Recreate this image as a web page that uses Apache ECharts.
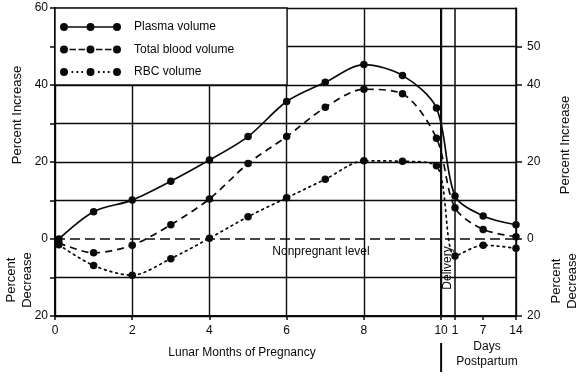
<!DOCTYPE html>
<html><head><meta charset="utf-8">
<script src="https://cdn.jsdelivr.net/npm/echarts@6/dist/echarts.min.js"></script>
<style>html,body{margin:0;padding:0;background:#fff}#c{width:583px;height:376px}</style>
</head><body><div id="c"></div>
<script>
// ---- data ----
const seriesNames = ['Plasma volume', 'Total blood volume', 'RBC volume'];
const months = [0.1, 1, 2, 3, 4, 5, 6, 7, 8, 9, 9.88];
const plasmaMonths = [0, 7.1, 10.1, 15, 20.5, 26.6, 35.7, 40.7, 45.3, 42.5, 34];
const totalMonths  = [-1, -3.6, -1.6, 3.7, 10.4, 19.6, 26.6, 34.2, 38.9, 37.7, 26.2];
const rbcMonths    = [-1.5, -6.9, -9.4, -5.1, 0.2, 5.8, 10.7, 15.5, 20.3, 20.2, 19];
const days = [1, 7, 14];
const plasmaDays = [11.2, 6.0, 3.7];
const totalDays  = [8.1, 2.5, 0.6];
const rbcDays    = [-4.4, -1.6, -2.4];
const monthTicks = [0, 2, 4, 6, 8, 10];
const dayTicks = [1, 7, 14];
const leftYLabels = [60, 40, 20, 0, -20];
const rightYLabels = [50, 40, 20, 0, -20];
const yGridValues = [-20, -10, 0, 10, 20, 30, 40, 50, 60];

// postpartum day scale placed after month 10 (broken axis)
const DAY_GAP = 0.36, MONTH_PER_DAY = 0.1215;
function dayPos(d) { return 10 + DAY_GAP + (d - 1) * MONTH_PER_DAY; }
const xMax = dayPos(14);
function pts(mv, dv) {
  return months.map((m, i) => [m, mv[i]]).concat(days.map((d, i) => [dayPos(d), dv[i]]));
}

const FONT = '"Liberation Sans", Arial, Helvetica, sans-serif';
const C = '#0a0a0a';

// legend icons: three dots joined by solid / dashed / dotted line (61 x 8)
const circ = cx => `M${cx - 4},4a4,4 0 1,0 8,0a4,4 0 1,0 -8,0Z`;
const dots3 = circ(4) + circ(30.5) + circ(57);
const rect = (x, w, y, h) => `M${x},${y}L${x + w},${y}L${x + w},${y + h}L${x},${y + h}Z`;
const segs = [8, 34.5];
const iconSolid = 'path://' + dots3 + segs.map(s => rect(s, 18.5, 3.2, 1.6)).join('');
const iconDash = 'path://' + dots3 + segs.map(s => rect(s + 1.5, 6.5, 3.2, 1.6) + rect(s + 10.5, 6.5, 3.2, 1.6)).join('');
const iconDot = 'path://' + dots3 + segs.map(s => rect(s + 3.5, 1.8, 3.1, 1.8) + rect(s + 8.4, 1.8, 3.1, 1.8) + rect(s + 13.3, 1.8, 3.1, 1.8)).join('');
const icons = [iconSolid, iconDash, iconDot];

const chart = echarts.init(document.getElementById('c'), null, { renderer: 'canvas' });

const lineTypes = ['solid', [7, 5], [1.8, 4]];
const seriesData = [pts(plasmaMonths, plasmaDays), pts(totalMonths, totalDays), pts(rbcMonths, rbcDays)];

const series = seriesNames.map((n, i) => ({
  name: n, type: 'line', xAxisIndex: 0, yAxisIndex: 0,
  data: seriesData[i], smooth: 0.3,
  symbol: 'circle', symbolSize: 7.5, showSymbol: true,
  itemStyle: { color: C }, lineStyle: { color: C, width: 1.7, type: lineTypes[i], cap: i === 2 ? 'round' : 'butt' },
  z: 3, silent: true, animation: false
}));
series[0].markLine = {
  silent: true, symbol: 'none', animation: false,
  data: [
    { yAxis: 0, lineStyle: { type: [10, 5], width: 1.6, color: C },
      label: { show: true, position: 'insideMiddleBottom', distance: 7, formatter: 'Nonpregnant level', padding: [0, 0, 0, 71], fontSize: 12, fontFamily: FONT, color: C } },
    { xAxis: 10, lineStyle: { type: 'solid', width: 2, color: C }, label: { show: false } },
    { xAxis: dayPos(1), lineStyle: { type: 'solid', width: 1.5, color: C }, label: { show: false } }
  ]
};

// horizontal grid: no solid line at 0 (the dashed nonpregnant line replaces it)
const gridColors = yGridValues.map(v => v === 0 ? 'rgba(0,0,0,0)' : C);

chart.setOption({
  animation: false,
  backgroundColor: '#fff',
  grid: { left: 55, right: 67, top: 8, bottom: 60 },
  xAxis: [
    { type: 'value', min: 0, max: xMax, interval: 2, position: 'bottom',
      axisLine: { show: true, onZero: false, lineStyle: { color: C, width: 2 } },
      axisTick: { show: true, length: 4, lineStyle: { color: C, width: 1.5 } },
      axisLabel: { color: C, fontSize: 12, fontFamily: FONT, margin: 9,
        formatter: v => monthTicks.includes(v) ? String(v) : '' },
      splitLine: { show: true, lineStyle: { color: C, width: 1.4 } } },
    { type: 'value', min: 0, max: xMax, position: 'bottom',
      axisLine: { show: false, onZero: false },
      axisTick: { show: true, length: 4, customValues: dayTicks.map(dayPos), lineStyle: { color: C, width: 1.5 } },
      axisLabel: { color: C, fontSize: 12, fontFamily: FONT, margin: 9, customValues: dayTicks.map(dayPos),
        formatter: v => { const d = dayTicks.find(t => Math.abs(dayPos(t) - v) < 1e-6); return d === undefined ? '' : String(d); } },
      splitLine: { show: false } }
  ],
  yAxis: [
    { type: 'value', min: -20, max: 60, interval: 10, position: 'left',
      axisLine: { show: true, onZero: false, lineStyle: { color: C, width: 2 } },
      axisTick: { show: true, length: 5, lineStyle: { color: C, width: 1.5 } },
      axisLabel: { color: C, fontSize: 12, fontFamily: FONT, margin: 7,
        formatter: v => leftYLabels.includes(v) ? String(Math.abs(v)) : '' },
      splitLine: { show: true, lineStyle: { color: gridColors, width: 1.4 } } },
    { type: 'value', min: -20, max: 60, interval: 10, position: 'right',
      axisLine: { show: true, onZero: false, lineStyle: { color: C, width: 1.5 } },
      axisTick: { show: true, length: 6, customValues: rightYLabels, lineStyle: { color: C, width: 1.5 } },
      axisLabel: { color: C, fontSize: 12, fontFamily: FONT, margin: 11, customValues: rightYLabels,
        formatter: v => String(Math.abs(v)) },
      splitLine: { show: false } }
  ],
  legend: {
    orient: 'vertical', left: 55, top: 8, selectedMode: false,
    backgroundColor: '#fff', borderColor: C, borderWidth: 1.4, borderRadius: 0,
    padding: [13, 53, 7, 5], itemWidth: 61, itemHeight: 8, itemGap: 10.5,
    itemStyle: { color: C, borderWidth: 0 },
    textStyle: { fontSize: 12, color: C, fontFamily: FONT, padding: [0, 0, 0, 8] },
    data: seriesNames.map((n, i) => ({ name: n, icon: icons[i] }))
  },
  series: series
});

// decorations: axis titles, delivery label, delivery mark below axis
const xd = chart.convertToPixel({ xAxisIndex: 0 }, 10);
const txt = (x, y, text, rot, size) => ({
  type: 'text', x: x, y: y, rotation: rot ? Math.PI / 2 : 0, silent: true,
  style: { text: text, fill: C, font: (size || 12) + 'px ' + FONT, align: 'center', verticalAlign: 'middle', lineHeight: (size || 12) + 3 }
});
chart.setOption({
  graphic: [
    txt(17, 115, 'Percent Increase', true, 13),
    txt(19, 280, 'Percent\nDecrease', true, 13),
    txt(565, 145, 'Percent Increase', true, 13),
    txt(564, 281, 'Percent\nDecrease', true, 13),
    txt(242, 353, 'Lunar Months of Pregnancy', false),
    txt(487, 354, 'Days\nPostpartum', false),
    txt(448, 268, 'Delivery', true),
    { type: 'line', silent: true, shape: { x1: xd, y1: 343, x2: xd, y2: 372 }, style: { stroke: C, lineWidth: 2 } }
  ]
});
</script>
</body></html>
